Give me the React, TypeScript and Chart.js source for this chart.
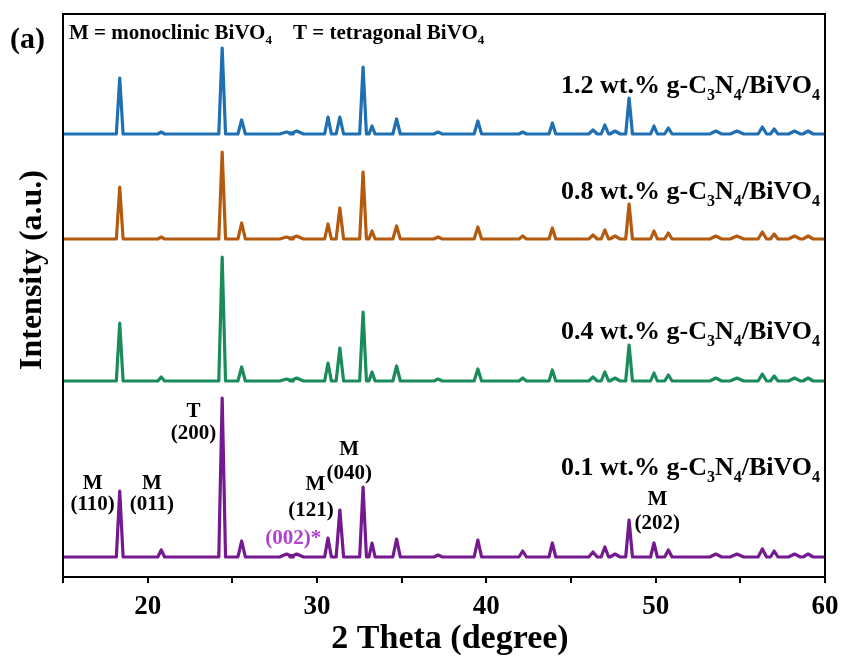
import { useEffect, useRef } from "react";
import { Chart, registerables } from "chart.js";

Chart.register(...registerables);

// Peak positions (2θ, degree) shared by all four patterns
const PEAK_POSITIONS = [18.35, 20.8, 24.4, 25.55, 28.2, 28.8, 30.65, 31.35, 32.72, 33.25, 34.7, 37.15, 39.5, 42.15, 43.9, 46.3, 47.0, 47.6, 48.43, 49.9, 50.75, 53.55, 54.8, 56.3, 57.0, 58.2, 59.0];
// Half-widths of the peak feet (degree)
const PEAK_HALF_WIDTHS = [0.2, 0.2, 0.2, 0.22, 0.4, 0.4, 0.2, 0.22, 0.2, 0.18, 0.22, 0.25, 0.22, 0.22, 0.2, 0.25, 0.22, 0.3, 0.2, 0.2, 0.22, 0.35, 0.4, 0.25, 0.22, 0.35, 0.3];

// Peak heights above each baseline (arbitrary units)
const HEIGHTS_12 = [56, 2, 86, 14, 2, 3, 17, 17, 67, 8, 15, 2, 13, 2, 11, 4, 9, 3, 36, 8, 6, 3, 3, 7, 5, 3, 3];
const HEIGHTS_08 = [52, 2, 87, 16, 2, 3, 15, 31, 67, 8, 13, 2, 12, 3, 11, 4, 9, 3, 35, 8, 6, 3, 3, 7, 5, 3, 3];
const HEIGHTS_04 = [58, 4, 124, 14, 2, 3, 18, 33, 69, 9, 15, 2, 12, 3, 11, 4, 9, 3, 36, 8, 6, 3, 3, 7, 5, 3, 3];
const HEIGHTS_01 = [66, 7, 159, 16, 3, 3, 19, 47, 70, 14, 18, 2, 17, 6, 14, 5, 10, 3, 37, 14, 7, 3, 3, 8, 6, 3, 3];

// Vertical offsets of the stacked patterns
const OFFSETS = [443, 338, 196, 20];
const SERIES_LABELS = ["1.2", "0.8", "0.4", "0.1"];
const SERIES_COLORS = ["#1f6fb3", "#b45a0e", "#1a8c5b", "#74198f"];

const X_MIN = 15;
const X_MAX = 60;
const Y_MAX = 563;

const FONT = '"Liberation Serif", "Times New Roman", serif';

type Seg = [string, boolean];

function buildTrace(offset: number, heights: number[]) {
  const pts: { x: number; y: number }[] = [{ x: X_MIN, y: offset }];
  PEAK_POSITIONS.forEach((p, i) => {
    const w = PEAK_HALF_WIDTHS[i];
    pts.push({ x: p - w, y: offset });
    pts.push({ x: p, y: offset + heights[i] });
    pts.push({ x: p + w, y: offset });
  });
  pts.push({ x: X_MAX, y: offset });
  return pts;
}

function drawRich(
  ctx: CanvasRenderingContext2D,
  segs: Seg[],
  x: number,
  y: number,
  size: number,
  align: "left" | "right" | "center",
  color = "#000"
) {
  const mainF = `bold ${size}px ${FONT}`;
  const subF = `bold ${Math.round(size * 0.62)}px ${FONT}`;
  const widths = segs.map(([t, sub]) => {
    ctx.font = sub ? subF : mainF;
    return ctx.measureText(t).width;
  });
  const total = widths.reduce((a, b) => a + b, 0);
  let cx = align === "left" ? x : align === "right" ? x - total : x - total / 2;
  ctx.fillStyle = color;
  ctx.textAlign = "left";
  ctx.textBaseline = "alphabetic";
  segs.forEach(([t, sub], i) => {
    ctx.font = sub ? subF : mainF;
    ctx.fillText(t, cx, sub ? y + size * 0.25 : y);
    cx += widths[i];
  });
}

// Peak annotations on the 0.1 wt.% pattern: [x (deg), y (value), text, color]
const PEAK_NOTES: [number, number, string, string][] = [
  [16.75, 88, "M", "#000"],
  [16.75, 67, "(110)", "#000"],
  [20.25, 88, "M", "#000"],
  [20.25, 67, "(011)", "#000"],
  [22.7, 160, "T", "#000"],
  [22.7, 138, "(200)", "#000"],
  [29.9, 87, "M", "#000"],
  [29.65, 61, "(121)", "#000"],
  [31.9, 122, "M", "#000"],
  [31.9, 98, "(040)", "#000"],
  [28.6, 33, "(002)*", "#b040cf"],
  [50.1, 72, "M", "#000"],
  [50.1, 48, "(202)", "#000"],
];
// Series label baselines (value units)
const SERIES_LABEL_Y = [484, 378, 238, 102];

const annotPlugin = {
  id: "annot",
  afterDraw(chart: any) {
    const { ctx, chartArea, scales } = chart;
    const x = scales.x;
    const y = scales.y;
    ctx.save();
    // frame
    ctx.strokeStyle = "#000";
    ctx.lineWidth = 2;
    ctx.strokeRect(chartArea.left, chartArea.top, chartArea.right - chartArea.left, chartArea.bottom - chartArea.top);

    // top legend
    drawRich(ctx, [["M = monoclinic BiVO", false], ["4", true]], chartArea.left + 6, chartArea.top + 25, 21, "left");
    drawRich(ctx, [["T = tetragonal BiVO", false], ["4", true]], chartArea.left + 230, chartArea.top + 25, 21, "left");

    // series labels
    SERIES_LABELS.forEach((lab, i) => {
      drawRich(
        ctx,
        [[`${lab} wt.% g-C`, false], ["3", true], ["N", false], ["4", true], ["/BiVO", false], ["4", true]],
        chartArea.right - 5,
        y.getPixelForValue(SERIES_LABEL_Y[i]),
        26,
        "right"
      );
    });

    // peak notes
    PEAK_NOTES.forEach(([px, py, t, c]) => {
      drawRich(ctx, [[t, false]], x.getPixelForValue(px), y.getPixelForValue(py), 21, "center", c);
    });

    // (a)
    drawRich(ctx, [["(a)", false]], 10, 48, 30, "left");

    // axis titles
    ctx.fillStyle = "#000";
    ctx.font = `bold 34px ${FONT}`;
    ctx.textAlign = "center";
    ctx.textBaseline = "middle";
    ctx.fillText("2 Theta (degree)", 450, 639);
    ctx.save();
    ctx.translate(33, 270);
    ctx.rotate(-Math.PI / 2);
    ctx.font = `bold 32px ${FONT}`;
    ctx.fillText("Intensity (a.u.)", 0, 0);
    ctx.restore();
    ctx.restore();
  },
};

export default function App() {
  const ref = useRef<HTMLCanvasElement | null>(null);
  useEffect(() => {
    document.body.style.margin = "0";
    const heights = [HEIGHTS_12, HEIGHTS_08, HEIGHTS_04, HEIGHTS_01];
    const chart = new Chart(ref.current!, {
      type: "line",
      data: {
        datasets: SERIES_LABELS.map((lab, i) => ({
          label: `${lab} wt.% g-C3N4/BiVO4`,
          data: buildTrace(OFFSETS[i], heights[i]),
          borderColor: SERIES_COLORS[i],
          borderWidth: 3.2,
          pointRadius: 0,
          tension: 0,
          borderJoinStyle: "round" as const,
          fill: false,
        })),
      },
      options: {
        animation: false,
        responsive: false,
        maintainAspectRatio: false,
        layout: { padding: { left: 0, right: 16, top: 14, bottom: 0 } },
        plugins: { legend: { display: false }, tooltip: { enabled: false } },
        scales: {
          x: {
            type: "linear",
            min: X_MIN,
            max: X_MAX,
            ticks: {
              stepSize: 5,
              autoSkip: false,
              maxRotation: 0,
              color: "#000",
              padding: 8,
              font: { family: FONT, size: 27, weight: "bold" },
              callback: (v: any) => (Number(v) % 10 === 0 ? String(v) : ""),
            },
            grid: { display: true, drawOnChartArea: false, drawTicks: true, tickLength: 6, color: "#000", lineWidth: 2 },
            border: { display: false },
            afterFit: (s: any) => {
              s.height = 87;
              s.paddingRight = 0;
              s.paddingLeft = 0;
            },
          },
          y: {
            type: "linear",
            min: 0,
            max: Y_MAX,
            ticks: { display: false },
            grid: { display: false },
            border: { display: false },
            afterFit: (s: any) => {
              s.width = 63;
            },
          },
        },
      },
      plugins: [annotPlugin],
    });
    return () => chart.destroy();
  }, []);
  return <canvas ref={ref} width={841} height={664} style={{ display: "block" }} />;
}
